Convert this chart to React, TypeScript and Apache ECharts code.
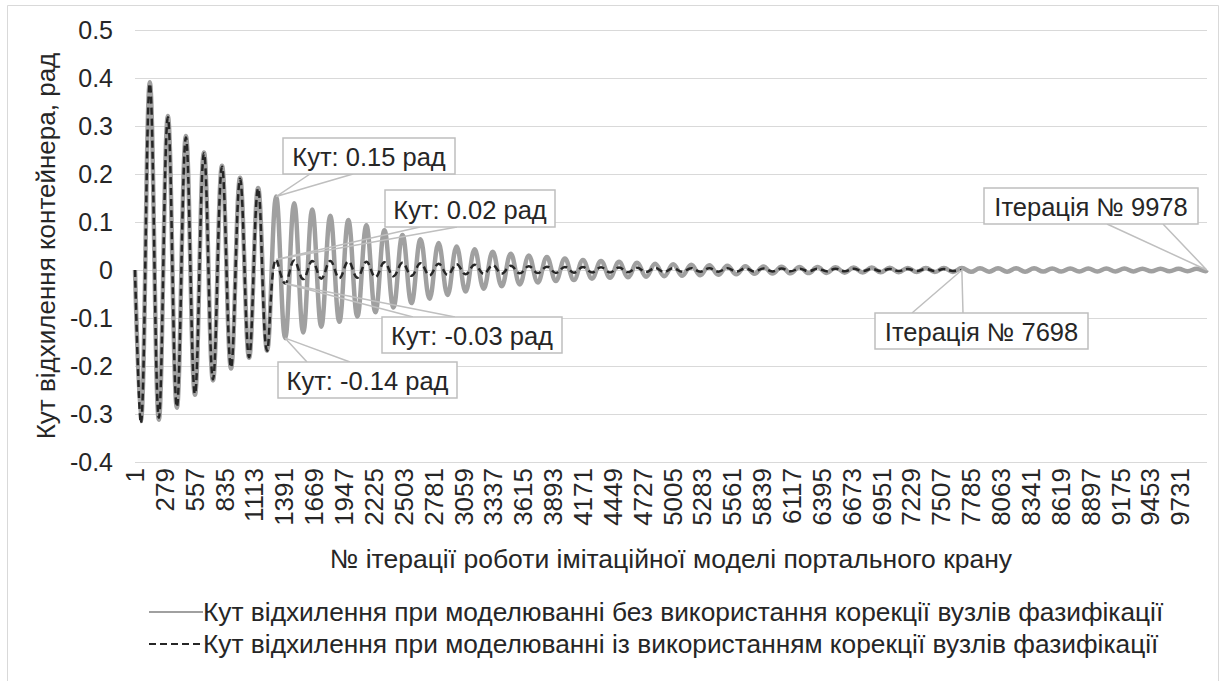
import React, { useEffect, useRef } from "react";
import * as echarts from "echarts";

// Iteration numbers at which the swing angle reaches its extremes
const extremeIterations = [
  1, 55, 139, 223, 307, 391, 475, 559, 643, 727,
  811, 895, 979, 1063, 1147, 1231, 1315, 1399, 1483, 1567,
  1651, 1735, 1819, 1903, 1987, 2071, 2155, 2239, 2323, 2407,
  2491, 2575, 2659, 2743, 2827, 2911, 2995, 3079, 3163, 3247,
  3331, 3415, 3499, 3583, 3667, 3751, 3835, 3919, 4003, 4087,
  4171, 4255, 4339, 4423, 4507, 4591, 4675, 4759, 4843, 4927,
  5011, 5095, 5179, 5263, 5347, 5431, 5515, 5599, 5683, 5767,
  5851, 5935, 6019, 6103, 6187, 6271, 6355, 6439, 6523, 6607,
  6691, 6775, 6859, 6943, 7027, 7111, 7195, 7279, 7363, 7447,
  7531, 7615, 7698, 7783, 7867, 7951, 8035, 8119, 8203, 8287,
  8371, 8455, 8539, 8623, 8707, 8791, 8875, 8959, 9043, 9127,
  9211, 9295, 9379, 9463, 9547, 9631, 9715, 9799, 9883, 9967,
  9978,
];

// Angle without correction of fuzzification nodes (rad)
const withoutCorrection = [
  0, -0.315, 0.391, -0.312, 0.321, -0.287, 0.279, -0.26, 0.245, -0.23,
  0.217, -0.205, 0.192, -0.183, 0.171, -0.168, 0.153, -0.142, 0.139, -0.13,
  0.126, -0.118, 0.113, -0.108, 0.104, -0.097, 0.093, -0.088, 0.083, -0.078,
  0.073, -0.069, 0.064, -0.06, 0.056, -0.052, 0.049, -0.045, 0.043, -0.039,
  0.038, -0.034, 0.034, -0.03, 0.03, -0.026, 0.027, -0.023, 0.024, -0.021,
  0.021, -0.018, 0.019, -0.016, 0.017, -0.015, 0.015, -0.014, 0.013, -0.013,
  0.012, -0.012, 0.011, -0.011, 0.01, -0.01, 0.009, -0.009, 0.008, -0.008,
  0.0075, -0.0075, 0.007, -0.007, 0.0065, -0.0065, 0.006, -0.006, 0.0055, -0.0055,
  0.005, -0.005, 0.005, -0.0048, 0.0046, -0.0045, 0.0044, -0.0043, 0.0042, -0.0041,
  0.004, -0.004, 0.004, -0.0038, 0.0037, -0.0036, 0.0036, -0.0035, 0.0035, -0.0034,
  0.0034, -0.0033, 0.0033, -0.0032, 0.0032, -0.0031, 0.0031, -0.003, 0.003, -0.003,
  0.0029, -0.0029, 0.0028, -0.0028, 0.0027, -0.0027, 0.0026, -0.0026, 0.0025, -0.0025,
  0,
];

// Angle with correction of fuzzification nodes (rad), ends at iteration 7698
const withCorrection = [
  0, -0.319, 0.388, -0.308, 0.318, -0.285, 0.276, -0.258, 0.243, -0.228,
  0.215, -0.203, 0.19, -0.182, 0.17, -0.168, 0.022, -0.028, 0.02, -0.019,
  0.019, -0.018, 0.019, -0.017, 0.018, -0.016, 0.017, -0.015, 0.016, -0.013,
  0.015, -0.012, 0.014, -0.011, 0.013, -0.01, 0.012, -0.009, 0.011, -0.008,
  0.01, -0.0075, 0.009, -0.007, 0.008, -0.0065, 0.007, -0.006, 0.0065, -0.0055,
  0.006, -0.005, 0.0055, -0.005, 0.005, -0.0045, 0.0045, -0.0042, 0.0042, -0.004,
  0.004, -0.0038, 0.0038, -0.0036, 0.0036, -0.0034, 0.0034, -0.0032, 0.0032, -0.003,
  0.003, -0.0029, 0.0029, -0.0028, 0.0028, -0.0027, 0.0027, -0.0026, 0.0026, -0.0025,
  0.0025, -0.0024, 0.0024, -0.0023, 0.0023, -0.0022, 0.0022, -0.0021, 0.0021, -0.002,
  0.002, -0.002, 0,
];

const seriesNames = [
  "Кут відхилення при моделюванні без використання корекції вузлів фазифікації",
  "Кут відхилення при моделюванні із використанням корекції вузлів фазифікації",
];

const xTickStep = 278; // labels 1, 279, 557, ... 9731
const xLastIteration = 9980;
const yMin = -0.4;
const yMax = 0.5;
const yStep = 0.1;

const xAxisTitle = "№ ітерації роботи імітаційної моделі портального крану";
const yAxisTitle = "Кут відхилення контейнера, рад";

// Callouts: [series index, point index, text]
const callouts: [number, number, string][] = [
  [0, 16, "Кут: 0.15 рад"],
  [1, 16, "Кут: 0.02 рад"],
  [1, 17, "Кут: -0.03 рад"],
  [0, 17, "Кут: -0.14 рад"],
  [1, 92, "Ітерація № 7698"],
  [0, 120, "Ітерація № 9978"],
];

// Box placement of each callout (layout only): [x, y, w, h, base1x, base1y, base2x, base2y]
const calloutBoxes = [
  [283, 138, 172, 36, 310, 174, 353, 174],
  [385, 190, 170, 37, 420, 227, 457, 227],
  [382, 317, 180, 36, 413, 317, 455, 317],
  [278, 362, 179, 36, 307, 362, 350, 362],
  [875, 313, 213, 36, 912, 313, 963, 313],
  [984, 188, 214, 36, 1107, 224, 1163, 224],
];

const FONT = '"Liberation Sans", Arial, sans-serif';
const TEXT = "#262626";

export default function App() {
  const ref = useRef<HTMLDivElement>(null);

  useEffect(() => {
    if (!ref.current) return;
    const chart = echarts.init(ref.current, null, { renderer: "svg" });

    const grey = withoutCorrection.map((v, i) => [extremeIterations[i] - 1, v]);
    const black = withCorrection.map((v, i) => [extremeIterations[i] - 1, v]);
    const seriesData = [grey, black];

    chart.setOption({
      animation: false,
      backgroundColor: "#ffffff",
      grid: { left: 135, right: 19, top: 30, bottom: 219, containLabel: false, outerBoundsMode: "none" },
      xAxis: {
        type: "value",
        min: 0,
        max: xLastIteration - 1,
        interval: xTickStep,
        name: xAxisTitle,
        nameLocation: "middle",
        nameGap: 83,
        nameTextStyle: { fontFamily: FONT, fontSize: 26.5, color: TEXT },
        axisLine: { show: true, lineStyle: { color: "#d9d9d9", width: 1 } },
        axisTick: { show: false },
        splitLine: { show: false },
        axisLabel: {
          rotate: 90,
          margin: 6,
          showMaxLabel: false,
          fontFamily: FONT,
          fontSize: 26,
          color: TEXT,
          formatter: (v: number) => (v % xTickStep === 0 ? String(v + 1) : ""),
        },
      },
      yAxis: {
        type: "value",
        min: yMin,
        max: yMax,
        interval: yStep,
        name: yAxisTitle,
        nameLocation: "middle",
        nameGap: 75,
        nameTextStyle: { fontFamily: FONT, fontSize: 26, color: TEXT },
        axisLine: { show: false },
        axisTick: { show: false },
        splitLine: { lineStyle: { color: "#d9d9d9", width: 1 } },
        axisLabel: {
          margin: 22,
          fontFamily: FONT,
          fontSize: 25,
          color: TEXT,
          formatter: (v: number) => String(Number(v.toFixed(1))),
        },
      },
      legend: {
        orient: "vertical",
        left: 143,
        top: 594,
        itemWidth: 54,
        itemHeight: 14,
        itemGap: 6,
        itemStyle: { opacity: 0 },
        textStyle: { fontFamily: FONT, fontSize: 26.3, color: TEXT, padding: [0, 0, 0, -5] },
        data: seriesNames,
      },
      series: [
        {
          name: seriesNames[0],
          type: "line",
          data: grey,
          smooth: 0.4,
          symbol: "none",
          showSymbol: false,
          lineStyle: { color: "#a0a0a0", width: 4.5 },
          itemStyle: { color: "#a0a0a0" },
          z: 2,
        },
        {
          name: seriesNames[1],
          type: "line",
          data: black,
          smooth: 0.4,
          symbol: "none",
          showSymbol: false,
          lineStyle: { color: "#262626", width: 2.5, type: [7, 4] },
          itemStyle: { color: "#262626" },
          z: 3,
        },
      ],
    });

    const elements: any[] = [
      {
        type: "rect",
        shape: { x: 7.5, y: 5.5, width: 1211, height: 720 },
        style: { fill: "none", stroke: "#d9d9d9", lineWidth: 1 },
        silent: true,
        z: 0,
      },
    ];
    callouts.forEach(([s, idx, text], k) => {
      const pt = seriesData[s][idx];
      const tip = chart.convertToPixel({ gridIndex: 0 }, pt as any) as number[];
      const [bx, by, bw, bh, b1x, b1y, b2x, b2y] = calloutBoxes[k];
      elements.push({
        type: "polyline",
        shape: { points: [[b1x, b1y], [tip[0], tip[1]], [b2x, b2y]] },
        style: { fill: "none", stroke: "#bfbfbf", lineWidth: 1.5 },
        silent: true,
        z: 10,
      });
      elements.push({
        type: "rect",
        shape: { x: bx, y: by, width: bw, height: bh },
        style: { fill: "#ffffff", stroke: "#bfbfbf", lineWidth: 1.5 },
        silent: true,
        z: 11,
      });
      elements.push({
        type: "text",
        x: bx + bw / 2,
        y: by + bh / 2 + 1,
        style: {
          text,
          font: `25.5px ${FONT}`,
          fill: TEXT,
          align: "center",
          verticalAlign: "middle",
          textAlign: "center",
          textVerticalAlign: "middle",
        },
        silent: true,
        z: 12,
      });
    });
    chart.setOption({ graphic: elements });

    return () => chart.dispose();
  }, []);

  return (
    <div
      ref={ref}
      style={{ position: "absolute", left: 0, top: 0, width: 1226, height: 681, background: "#fff" }}
    />
  );
}
